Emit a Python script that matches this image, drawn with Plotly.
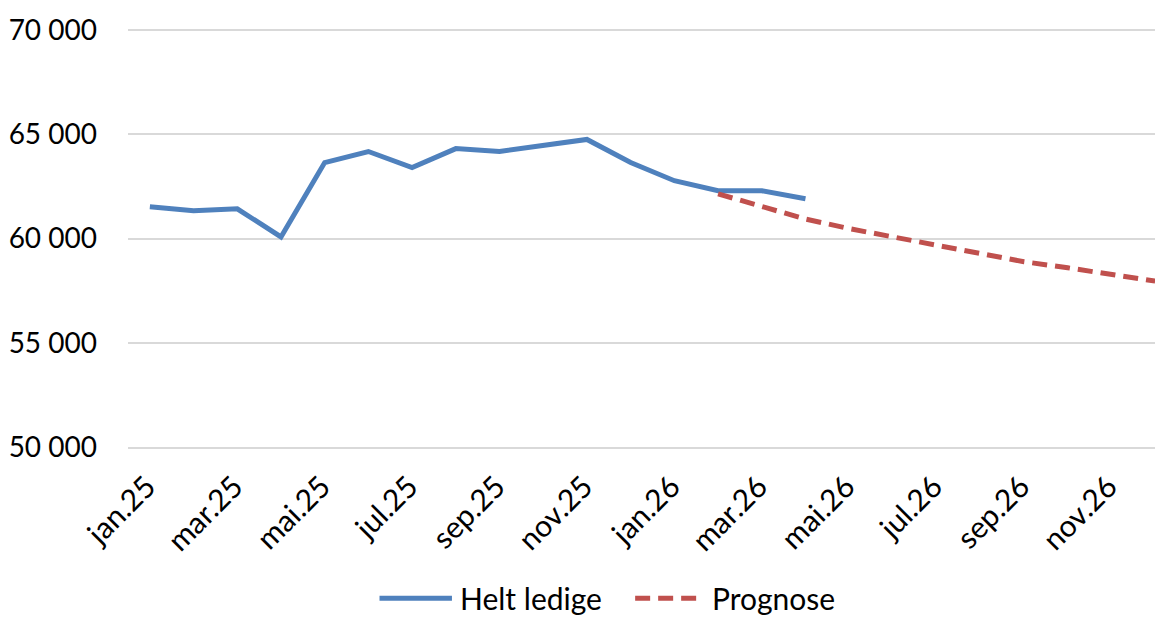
import plotly.graph_objects as go

MONTHS = [
    "jan.25", "feb.25", "mar.25", "apr.25", "mai.25", "jun.25",
    "jul.25", "aug.25", "sep.25", "okt.25", "nov.25", "des.25",
    "jan.26", "feb.26", "mar.26", "apr.26", "mai.26", "jun.26",
    "jul.26", "aug.26", "sep.26", "okt.26", "nov.26", "des.26",
]

# Helt ledige, jan.25 - apr.26
HELT_LEDIGE = [
    61530, 61340, 61430, 60080, 63650, 64180,
    63410, 64320, 64180, 64470, 64760, 63650,
    62780, 62300, 62300, 61910,
]

# Prognose, feb.26 - des.26
PROGNOSE_MONTHS = MONTHS[13:]
PROGNOSE = [
    62150, 61530, 60940, 60480, 60080, 59630,
    59250, 58890, 58600, 58280, 57960,
]

TICK_MONTHS = MONTHS[::2]
Y_TICKS = [50000, 55000, 60000, 65000, 70000]

BLUE = "#4F81BD"
RED = "#C0504D"
GRID = "#D9D9D9"
FONT = "Lato, Carlito, Calibri, sans-serif"

fig = go.Figure()

fig.add_trace(go.Scatter(
    x=MONTHS[:len(HELT_LEDIGE)],
    y=HELT_LEDIGE,
    mode="lines",
    name="Helt ledige",
    line=dict(color=BLUE, width=5),
))

fig.add_trace(go.Scatter(
    x=PROGNOSE_MONTHS,
    y=PROGNOSE,
    mode="lines",
    name="Prognose",
    line=dict(color=RED, width=5, dash="15px,8px"),
))

# legende under grafen, som i Excel (lange linjeprøver)
LEG_Y = -0.362
legend_items = [
    ("Helt ledige", BLUE, "solid", 0.243, 0.313, 0.319),
    ("Prognose", RED, "15px,8px", 0.490, 0.553, 0.562),
]
for name, color, dash, x0, x1, xt in legend_items:
    fig.add_shape(
        type="line", xref="paper", yref="paper",
        x0=x0, x1=x1, y0=LEG_Y, y1=LEG_Y,
        line=dict(color=color, width=5, dash=dash),
    )
    fig.add_annotation(
        xref="paper", yref="paper", x=xt, y=LEG_Y,
        text=name, showarrow=False, xanchor="left", yanchor="middle",
        font=dict(size=30),
    )

# siden har 8px body-marg, derfor l/t litt mindre og r/b litt større
fig.update_layout(
    width=1163,
    height=618,
    margin=dict(l=120, r=8, t=21, b=179, autoexpand=False),
    paper_bgcolor="white",
    plot_bgcolor="white",
    separators=", ",
    font=dict(family=FONT, size=28, color="#000000"),
    showlegend=False,
)

fig.update_xaxes(
    type="category",
    categoryorder="array",
    categoryarray=MONTHS,
    range=[-0.5, 23.18],
    tickmode="array",
    tickvals=TICK_MONTHS,
    ticktext=TICK_MONTHS,
    tickangle=-45,
    showgrid=False,
    showline=True,
    linecolor=GRID,
    linewidth=2,
    ticks="",
    automargin=False,
    ticklabelstandoff=8,
    ticklabelshift=-3,
    tickfont=dict(size=30),
)

fig.update_yaxes(
    range=[50000, 70060],
    tickvals=Y_TICKS,
    tickformat=",d",
    showgrid=True,
    gridcolor=GRID,
    gridwidth=2,
    zeroline=False,
    showline=False,
    ticks="",
    automargin=False,
    ticklabelstandoff=30,
    tickfont=dict(size=28),
)

fig.write_html("out.html")
